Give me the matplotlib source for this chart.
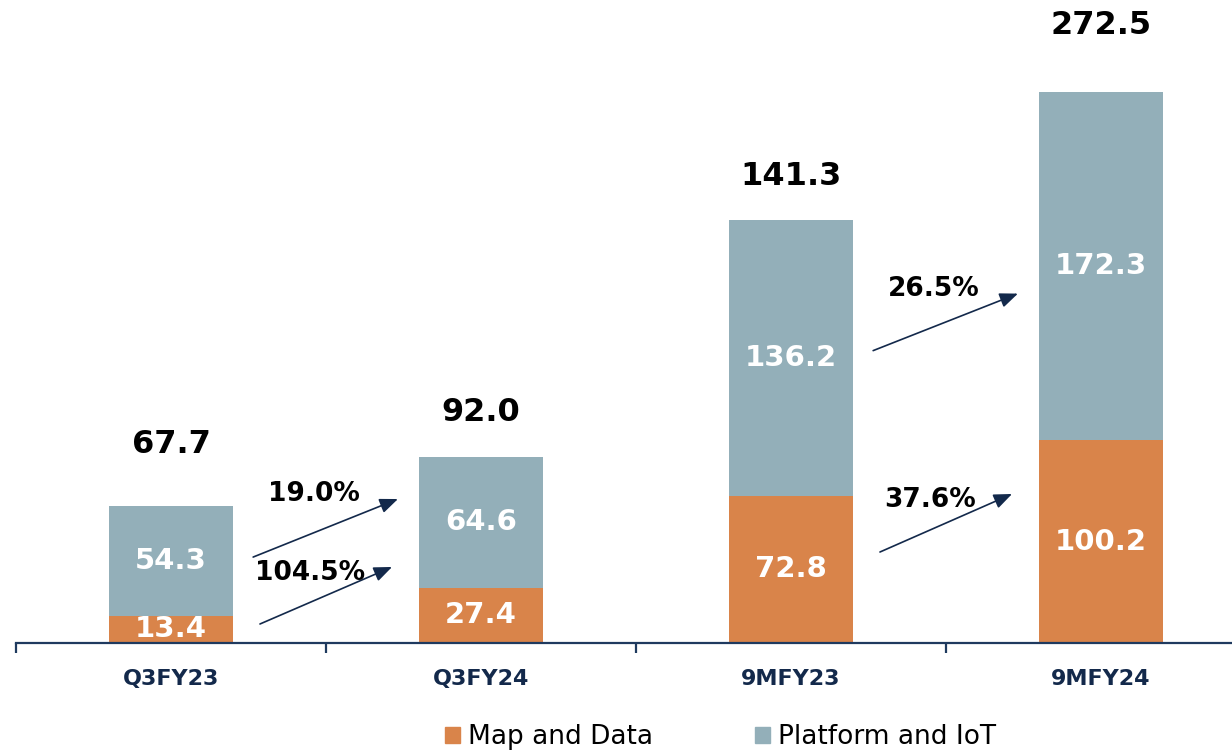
import numpy as np
import matplotlib
matplotlib.use('Agg')
import matplotlib.pyplot as plt
from matplotlib.patches import Patch

plt.rcParams['font.family'] = 'DejaVu Sans'

categories = ['Q3FY23', 'Q3FY24', '9MFY23', '9MFY24']
map_data = [13.4, 27.4, 72.8, 100.2]
platform_iot = [54.3, 64.6, 136.2, 172.3]
total_labels = ['67.7', '92.0', '141.3', '272.5']
growth_upper = ['19.0%', '26.5%']
growth_lower = ['104.5%', '37.6%']

orange = '#D9844A'
grey = '#93AFB9'
navy = '#13294B'

fig = plt.figure(figsize=(12.32, 7.5), dpi=100)
ax = fig.add_axes([16/1232, 107/750, 1240/1232, 606.6/750])

x = np.arange(len(categories))
w = 0.4
ax.bar(x, map_data, w, color=orange, zorder=2)
ax.bar(x, platform_iot, w, bottom=map_data, color=grey, zorder=2)

ax.set_xlim(-0.5, 3.5)
ax.set_ylim(0, 300)

# segment labels
for i in range(len(x)):
    ax.text(x[i], map_data[i]/2, '{:.1f}'.format(map_data[i]), ha='center', va='center',
            color='white', fontsize=21, fontweight='bold', zorder=3)
    ax.text(x[i], map_data[i] + platform_iot[i]/2, '{:.1f}'.format(platform_iot[i]),
            ha='center', va='center', color='white', fontsize=21, fontweight='bold', zorder=3)

# totals above the bars
tot_offsets = [62, 44, 44, 67]
for i in range(len(x)):
    top = map_data[i] + platform_iot[i]
    ax.annotate(total_labels[i], (x[i], top), xytext=(0, tot_offsets[i]), textcoords='offset pixels',
                ha='center', va='center', fontsize=23, fontweight='bold', color='black',
                annotation_clip=False)

# growth arrows between pairs
arrow_kw = dict(arrowstyle='-|>,head_length=1.1,head_width=0.45', color=navy, lw=1.2,
                shrinkA=0, shrinkB=0, zorder=5)
pairs = [0, 2]
up_tail = [42.5, 144.6]
up_tip = [71.2, 172.8]
lo_tail = [9.4, 45.0]
lo_tip = [37.6, 73.7]
for k, i in enumerate(pairs):
    ax.text(i + 0.46, up_tip[k] + 2.5, growth_upper[k], ha='center', va='center',
            fontsize=19, fontweight='bold', color='black', zorder=4)
    ax.text(i + 0.45, lo_tip[k] - 3.0, growth_lower[k], ha='center', va='center',
            fontsize=19, fontweight='bold', color='black', zorder=4)
    ax.annotate('', xy=(i + 0.732, up_tip[k]), xytext=(i + 0.265, up_tail[k]), arrowprops=arrow_kw)
    ax.annotate('', xy=(i + 0.713, lo_tip[k]), xytext=(i + 0.287, lo_tail[k]), arrowprops=arrow_kw)

# axes styling
for s in ['top', 'right', 'left']:
    ax.spines[s].set_visible(False)
ax.spines['bottom'].set_color('#1F3A5F')
ax.spines['bottom'].set_linewidth(1.6)
ax.spines['bottom'].set_zorder(5)
ax.set_yticks([])
ax.set_xticks(x)
ax.set_xticklabels(categories, fontsize=16, fontweight='bold', color=navy)
ax.tick_params(axis='x', which='major', length=0, pad=19)
ax.set_xticks(np.arange(-0.5, 3.0, 1.0), minor=True)
ax.tick_params(axis='x', which='minor', length=7, width=1.6, color='#1F3A5F')

handles = [Patch(color=orange, label='Map and Data'), Patch(color=grey, label='Platform and IoT')]
fig.legend(handles=handles, loc='center', bbox_to_anchor=(0.585, 0.0173), ncol=2, frameon=False,
           fontsize=19, handlelength=0.57, handleheight=0.57, handletextpad=0.3, columnspacing=3.86,
           borderaxespad=0, borderpad=0)

fig.savefig('out.png', dpi=100)
